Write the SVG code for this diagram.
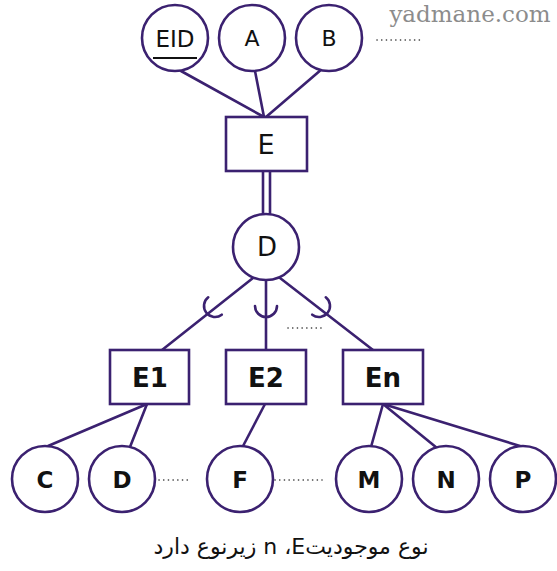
<svg xmlns="http://www.w3.org/2000/svg" width="557" height="571" viewBox="0 0 557 571">
<defs>
<style>
.c{fill:#fff;stroke:#3b2170;stroke-width:2.6}
.b{fill:#fff;stroke:#3b2170;stroke-width:2.6}
.l{fill:none;stroke:#3b2170;stroke-width:2.6;stroke-linecap:round}
.dots{fill:none;stroke:#333;stroke-width:1.6;stroke-dasharray:0.1 4.6;stroke-linecap:round}
.t{font-family:"DejaVu Sans",sans-serif;fill:#111;text-anchor:middle}
.tb{font-family:"DejaVu Sans",sans-serif;font-weight:bold;fill:#111;text-anchor:middle}
</style>
<path id="cup" d="M -11 0 A 11 11 0 0 0 11 0" fill="none" stroke="#3b2170" stroke-width="2.6" stroke-linecap="round"/>
</defs>
<rect width="557" height="571" fill="#fff"/>
<text x="470" y="22" font-family="DejaVu Serif,serif" font-size="23" fill="#8c8c8c" text-anchor="middle">yadmane.com</text>
<g id="connectors">
<line class="l" x1="181" y1="71" x2="264" y2="117"/>
<line class="l" x1="255" y1="71" x2="264" y2="117"/>
<line class="l" x1="322" y1="69" x2="266" y2="117"/>
<line class="l" x1="263" y1="171" x2="263" y2="215"/>
<line class="l" x1="270" y1="171" x2="270" y2="215"/>
<line class="l" x1="253" y1="278" x2="162" y2="350"/>
<line class="l" x1="266" y1="280" x2="266" y2="350"/>
<line class="l" x1="280" y1="278" x2="373" y2="350"/>
<use href="#cup" transform="translate(215,306) rotate(52)"/>
<use href="#cup" transform="translate(266,306)"/>
<use href="#cup" transform="translate(319,306) rotate(-52)"/>
<line class="l" x1="147" y1="404" x2="48" y2="446"/>
<line class="l" x1="147" y1="404" x2="130" y2="447"/>
<line class="l" x1="265" y1="404" x2="242" y2="448"/>
<line class="l" x1="383" y1="404" x2="371" y2="447"/>
<line class="l" x1="383" y1="404" x2="437" y2="448"/>
<line class="l" x1="383" y1="404" x2="520" y2="446"/>
</g>
<line class="dots" x1="377" y1="40" x2="422" y2="40"/>
<line class="dots" x1="288" y1="328" x2="323" y2="328"/>
<line class="dots" x1="159" y1="480" x2="190" y2="480"/>
<line class="dots" x1="275" y1="480" x2="322" y2="480"/>
<g id="EID"><circle class="c" cx="175" cy="38" r="33"/><text class="t" x="175" y="47" font-size="23">EID</text><line x1="153" y1="58" x2="197" y2="58" stroke="#111" stroke-width="2.2"/></g>
<g id="A"><circle class="c" cx="252" cy="38" r="33"/><text class="t" x="252" y="46" font-size="22">A</text></g>
<g id="B"><circle class="c" cx="329" cy="38" r="33"/><text class="t" x="329" y="46" font-size="22">B</text></g>
<g id="E"><rect class="b" x="226" y="117" width="81" height="54"/><text class="t" x="266" y="154" font-size="27">E</text></g>
<g id="Dnode"><circle class="c" cx="266" cy="247" r="33"/><text class="t" x="267" y="256" font-size="26">D</text></g>
<g id="E1"><rect class="b" x="110" y="350" width="79" height="54"/><text class="tb" x="150" y="387" font-size="26">E1</text></g>
<g id="E2"><rect class="b" x="226" y="350" width="80" height="54"/><text class="tb" x="266" y="387" font-size="26">E2</text></g>
<g id="En"><rect class="b" x="343" y="350" width="80" height="54"/><text class="tb" x="383" y="387" font-size="26">En</text></g>
<g id="C"><circle class="c" cx="45" cy="479" r="33"/><text class="tb" x="45" y="488" font-size="23">C</text></g>
<g id="D2"><circle class="c" cx="122" cy="479" r="33"/><text class="tb" x="122" y="488" font-size="23">D</text></g>
<g id="F"><circle class="c" cx="240" cy="479" r="33"/><text class="tb" x="240" y="488" font-size="23">F</text></g>
<g id="M"><circle class="c" cx="369" cy="479" r="33"/><text class="tb" x="369" y="488" font-size="23">M</text></g>
<g id="N"><circle class="c" cx="446" cy="479" r="33"/><text class="tb" x="446" y="488" font-size="23">N</text></g>
<g id="P"><circle class="c" cx="523" cy="479" r="33"/><text class="tb" x="523" y="488" font-size="23">P</text></g>
<text x="291" y="554" font-family="DejaVu Sans,sans-serif" font-size="22" fill="#111" text-anchor="middle" direction="rtl" unicode-bidi="bidi-override">نوع موجودیتE، n زیرنوع دارد</text>
</svg>
